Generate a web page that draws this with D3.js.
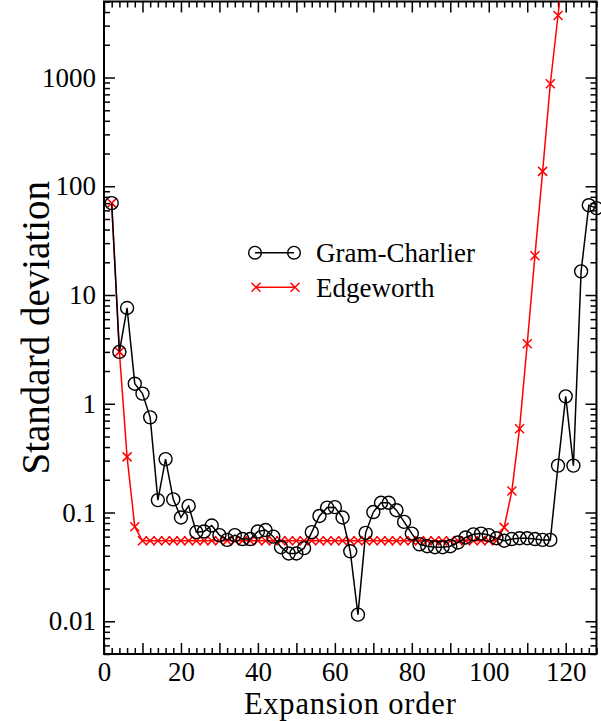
<!DOCTYPE html>
<html>
<head>
<meta charset="utf-8">
<script src="https://cdn.jsdelivr.net/npm/d3@7"></script>
<style>
  html, body { margin: 0; padding: 0; background: #fff; }
  svg { display: block; }
  svg text { font-family: "Liberation Serif", "Tinos", "Times New Roman", Times, "DejaVu Serif", serif !important; fill: #000; }
</style>
</head>
<body>
<svg id="chart" width="601" height="721"></svg>
<script>
// ---------------- data ----------------
const gcOrder = [2,4,6,8,10,12,14,16,18,20,22,24,26,28,30,32,34,36,38,40,42,44,46,48,50,52,54,56,58,60,62,64,
                 66,68,70,72,74,76,78,80,82,84,86,88,90,92,94,96,98,100,102,104,106,108,110,112,114,116,118,120,122,124,126,128];
const gcValue = [70,3.0,7.6,1.53,1.24,0.75,0.13,0.31,0.132,0.09,0.115,0.066,0.067,0.076,0.062,0.056,0.062,0.057,0.057,0.067,0.069,0.060,0.048,0.042,0.042,0.047,0.066,0.093,0.111,0.112,0.090,0.044,
                 0.0115,0.065,0.101,0.123,0.123,0.105,0.082,0.064,0.051,0.049,0.048,0.048,0.049,0.053,0.059,0.063,0.064,0.062,0.058,0.055,0.057,0.058,0.058,0.057,0.056,0.056,0.27,1.17,0.27,16.5,67,63];

const ewOrder = [2,4,6,8,10,12,14,16,18,20,22,24,26,28,30,32,34,36,38,40,42,44,46,48,50,52,54,56,58,60,
                 62,64,66,68,70,72,74,76,78,80,82,84,86,88,90,92,94,96,98,100,102,104,106,108,110,112,114,116,118,120];
const ewValue = [70,3.0,0.325,0.074,0.055,0.055,0.055,0.055,0.055,0.055,0.055,0.055,0.055,0.055,0.055,0.055,0.055,0.055,0.055,0.055,0.055,0.055,0.055,0.055,0.055,0.055,0.055,0.055,0.055,0.055,
                 0.055,0.055,0.055,0.055,0.055,0.055,0.055,0.055,0.055,0.055,0.055,0.055,0.055,0.055,0.055,0.055,0.055,0.055,0.055,0.055,0.055,0.073,0.158,0.59,3.57,23,137,877,3720,16000];

const xLabelTicks = [0,20,40,60,80,100,120];
const xMajorTicks = [0,10,20,30,40,50,60,70,80,90,100,110,120];
const yLabelTicks = [0.01,0.1,1,10,100,1000];
const yLabelText  = ["0.01","0.1","1","10","100","1000"];
const seriesNames = ["Gram-Charlier","Edgeworth"];
const xTitle = "Expansion order";
const yTitle = "Standard deviation";

// ---------------- layout ----------------
const L = 104, R = 596.5, T = 1.5, B = 654;
const svg = d3.select("#chart");

const x = d3.scaleLinear().domain([0,128]).range([L,R]);
const y = d3.scaleLog().domain([0.005,5000]).range([B,T]);

const xMinor = d3.range(0,129,2).filter(v => v % 10 !== 0);
const yMinor = [];
for (let e = -3; e <= 3; e++) for (let m = 2; m <= 9; m++) {
  const v = m * Math.pow(10,e);
  if (v >= 0.005 && v <= 5000) yMinor.push(v);
}

const tickStyle = g => { g.select(".domain").remove(); g.selectAll("line").attr("stroke","#000").attr("stroke-width",1.5); };
const noText = g => g.selectAll("text").remove();

// bottom
svg.append("g").attr("transform",`translate(0,${B})`)
  .call(d3.axisBottom(x).tickValues(xMajorTicks).tickSize(-11).tickFormat(""))
  .call(tickStyle).call(noText);
svg.append("g").attr("transform",`translate(0,${B})`)
  .call(d3.axisBottom(x).tickValues(xLabelTicks).tickSize(0))
  .call(tickStyle)
  .call(g => g.selectAll("text").attr("font-size",27).attr("fill","#000")
              .attr("y",27).attr("dy",null));
svg.append("g").attr("transform",`translate(0,${B})`)
  .call(d3.axisBottom(x).tickValues(xMinor).tickSize(-6).tickFormat(""))
  .call(tickStyle).call(noText);
// top
svg.append("g").attr("transform",`translate(0,${T})`)
  .call(d3.axisTop(x).tickValues(xMajorTicks).tickSize(-11).tickFormat(""))
  .call(tickStyle).call(noText);
svg.append("g").attr("transform",`translate(0,${T})`)
  .call(d3.axisTop(x).tickValues(xMinor).tickSize(-6).tickFormat(""))
  .call(tickStyle).call(noText);
// left
svg.append("g").attr("transform",`translate(${L},0)`)
  .call(d3.axisLeft(y).tickValues(yLabelTicks).tickSize(-11).tickPadding(8)
        .tickFormat((d,i) => yLabelText[i]))
  .call(tickStyle)
  .call(g => g.selectAll("text").attr("font-size",27).attr("fill","#000"));
svg.append("g").attr("transform",`translate(${L},0)`)
  .call(d3.axisLeft(y).tickValues(yMinor).tickSize(-6).tickFormat(""))
  .call(tickStyle).call(noText);
// right
svg.append("g").attr("transform",`translate(${R},0)`)
  .call(d3.axisRight(y).tickValues(yLabelTicks).tickSize(-11).tickFormat(""))
  .call(tickStyle).call(noText);
svg.append("g").attr("transform",`translate(${R},0)`)
  .call(d3.axisRight(y).tickValues(yMinor).tickSize(-6).tickFormat(""))
  .call(tickStyle).call(noText);

// frame
svg.append("rect").attr("x",L).attr("y",T).attr("width",R-L).attr("height",B-T)
  .attr("fill","none").attr("stroke","#000").attr("stroke-width",2);

// clip
svg.append("clipPath").attr("id","plotclip").append("rect")
  .attr("x",L).attr("y",T).attr("width",R-L).attr("height",B-T);

const gc = gcOrder.map((o,i) => ({o, v: gcValue[i]}));
const ew = ewOrder.map((o,i) => ({o, v: ewValue[i]}));
const line = d3.line().x(d => x(d.o)).y(d => y(d.v));

// Edgeworth (red)
svg.append("path").datum(ew).attr("d",line).attr("fill","none")
  .attr("stroke","#ff0000").attr("stroke-width",1.5).attr("clip-path","url(#plotclip)");
const xs = 4.5;
const crossPath = (cx,cy) => `M${cx-xs},${cy-xs}L${cx+xs},${cy+xs}M${cx-xs},${cy+xs}L${cx+xs},${cy-xs}`;
svg.append("g").attr("clip-path","url(#plotclip)").selectAll("path").data(ew).join("path")
  .attr("d", d => crossPath(x(d.o), y(d.v)))
  .attr("stroke","#ff0000").attr("stroke-width",1.5).attr("fill","none");

// Gram-Charlier (black)
svg.append("path").datum(gc).attr("d",line).attr("fill","none")
  .attr("stroke","#000").attr("stroke-width",1.5);
svg.append("g").selectAll("circle").data(gc).join("circle")
  .attr("cx", d => x(d.o)).attr("cy", d => y(d.v)).attr("r",6.5)
  .attr("fill","none").attr("stroke","#000").attr("stroke-width",1.4);

// legend
const lg = svg.append("g");
lg.append("line").attr("x1",255).attr("x2",294).attr("y1",252.7).attr("y2",252.7)
  .attr("stroke","#000").attr("stroke-width",1.5);
[255,294].forEach(cx => lg.append("circle").attr("cx",cx).attr("cy",252.7).attr("r",6.3)
  .attr("fill","none").attr("stroke","#000").attr("stroke-width",1.4));
lg.append("text").attr("x",316).attr("y",262).attr("font-size",27).text(seriesNames[0]);

lg.append("line").attr("x1",256).attr("x2",295).attr("y1",287.3).attr("y2",287.3)
  .attr("stroke","#ff0000").attr("stroke-width",1.5);
[256,295].forEach(cx => lg.append("path").attr("d",crossPath(cx,287.3))
  .attr("stroke","#ff0000").attr("stroke-width",1.5));
lg.append("text").attr("x",316).attr("y",296.5).attr("font-size",27).text(seriesNames[1]);

// axis titles
svg.append("text").attr("x",(L+R)/2).attr("y",714.2).attr("text-anchor","middle")
  .attr("font-size",30.5).attr("letter-spacing","0.8px").text(xTitle);
svg.append("text").attr("transform",`translate(49,${(T+B)/2}) rotate(-90)`)
  .attr("text-anchor","middle").attr("font-size",39).text(yTitle);
</script>
</body>
</html>
